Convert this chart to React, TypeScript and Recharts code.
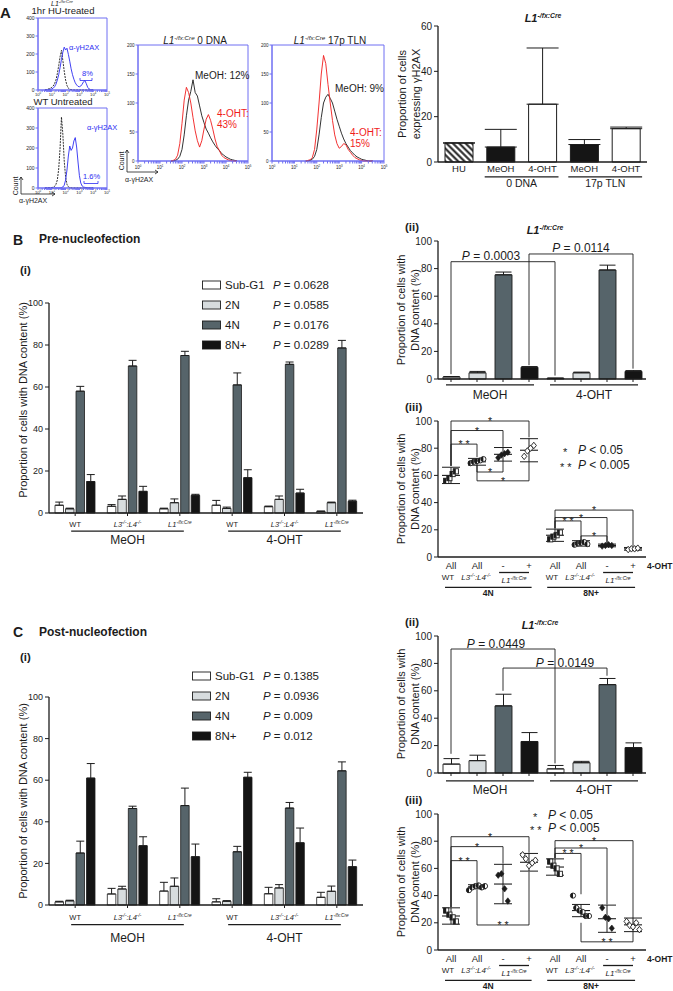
import React from 'react';
import {
  BarChart, Bar, XAxis, YAxis, Cell, ErrorBar, ReferenceLine, Legend,
  LineChart, Line, ScatterChart, Scatter, ReferenceArea,
} from 'recharts';

const FONT = '"Liberation Sans", Arial, Helvetica, sans-serif';
const INK = '#1c1c1c';
const BLUE = '#2c2cf2';
const FRAME = '#6f6ff2';
const RED = '#f01c1c';

// ===== Panel A: flow histograms (x = log10 intensity) =====
const leftBins = [0.5, 0.6, 0.7, 0.8, 0.9, 1.0, 1.1, 1.2, 1.3, 1.4, 1.5, 1.6, 1.7, 1.8, 1.9, 2.0, 2.1, 2.2, 2.3, 2.4, 2.5, 2.6, 2.7, 2.8, 2.9, 3.0, 3.1, 3.2, 3.3, 3.4, 3.5, 3.6, 3.7, 3.8, 3.9, 4.0];
const huIsotype = [0, 2, 4, 7, 10, 15, 22, 35, 55, 90, 135, 185, 220, 165, 105, 55, 25, 10, 4, 2, 1, 0, 0, 0, 0, 0, 0, 0, 0, 0, 0, 0, 0, 0, 0, 0];
const huGamma = [0, 0, 1, 2, 4, 6, 10, 18, 32, 55, 85, 125, 170, 210, 238, 222, 232, 198, 160, 118, 85, 60, 40, 28, 20, 18, 22, 32, 46, 52, 35, 15, 6, 2, 0, 0];
const untIsotype = [0, 0, 0, 1, 1, 2, 4, 8, 18, 40, 95, 200, 355, 270, 135, 55, 18, 6, 2, 1, 0, 0, 0, 0, 0, 0, 0, 0, 0, 0, 0, 0, 0, 0, 0, 0];
const untGamma = [0, 0, 0, 0, 0, 0, 0, 0, 0, 0, 0, 0, 2, 5, 14, 40, 90, 160, 210, 188, 200, 235, 252, 205, 130, 62, 25, 10, 5, 3, 2, 1, 0, 0, 0, 0];
const midBins = [1.5, 1.6, 1.7, 1.8, 1.9, 2.0, 2.1, 2.2, 2.3, 2.4, 2.5, 2.6, 2.7, 2.8, 2.9, 3.0, 3.1, 3.2, 3.3, 3.4, 3.5, 3.6, 3.7, 3.8, 3.9, 4.0, 4.1, 4.2, 4.3, 4.4, 4.5];
const dnaMeOH = [0, 0, 1, 3, 8, 20, 45, 78, 105, 120, 140, 118, 112, 95, 78, 66, 55, 48, 40, 33, 27, 22, 18, 13, 10, 7, 5, 3, 2, 1, 0];
const dna4OHT = [0, 1, 3, 10, 30, 65, 105, 127, 118, 100, 75, 52, 35, 24, 35, 55, 72, 80, 70, 55, 38, 25, 18, 10, 6, 4, 2, 1, 0, 0, 0];
const tlnMeOH = [0, 0, 1, 3, 8, 20, 45, 75, 100, 110, 115, 108, 100, 86, 72, 60, 48, 38, 30, 24, 18, 14, 10, 7, 5, 3, 2, 1, 0, 0, 0];
const tln4OHT = [0, 1, 2, 6, 20, 55, 100, 150, 182, 168, 132, 100, 70, 45, 30, 22, 25, 30, 28, 20, 15, 10, 6, 4, 2, 1, 0, 0, 0, 0, 0];
const decadeTicks = [0, 1, 2, 3, 4, 5];
const minorFactors = [2, 3, 4, 5, 6, 7, 8, 9];
const leftYTicks = [0, 100, 200, 300, 400];
const midYTicks = [0, 50, 100, 150, 200];

// ===== Panel A: bar chart =====
const aKeys = ['HU', 'MeOH_0', 'OHT_0', 'MeOH_17', 'OHT_17'];
const aLabels = ['HU', 'MeOH', '4-OHT', 'MeOH', '4-OHT'];
const aValues = [8.4, 6.6, 25.5, 7.7, 14.7];
const aErrors = [0, 7.8, 24.8, 2.2, 0.7];
const aFills = ['url(#hatch)', '#151515', '#ffffff', '#151515', '#ffffff'];
const aGroups = [{ from: 'MeOH_0', to: 'OHT_0', label: '0 DNA' }, { from: 'MeOH_17', to: 'OHT_17', label: '17p TLN' }];

// ===== Panels B(i) / C(i) =====
const genoKeys = ['WT_M', 'L34_M', 'L1_M', 'WT_O', 'L34_O', 'L1_O'];
const genoKinds = ['WT', 'L34', 'L1', 'WT', 'L34', 'L1'];
const treatGroups = [{ from: 'WT_M', to: 'L1_M', label: 'MeOH' }, { from: 'WT_O', to: 'L1_O', label: '4-OHT' }];
const phaseKeys = ['sub', 'n2', 'n4', 'n8'];
const phaseNames = ['Sub-G1', '2N', '4N', '8N+'];
const phaseColors = ['#ffffff', '#d7dcde', '#56646a', '#141414'];

const preP = ['0.0628', '0.0585', '0.0176', '0.0289'];
const preSubG1 = [3.7, 3.2, 2, 3.7, 3, 0.8];
const preSubG1Err = [1.5, 0.8, 0.3, 2.3, 0.3, 0.1];
const pre2N = [2, 6.5, 4.9, 2.2, 6.5, 4.9];
const pre2NErr = [0.3, 1.6, 1.8, 0.6, 1.6, 0.3];
const pre4N = [58, 70, 75, 61, 70.8, 78.6];
const pre4NErr = [2.3, 2.7, 2, 5.7, 1.1, 3.6];
const pre8N = [15, 10.3, 8.4, 16.8, 9.5, 5.6];
const pre8NErr = [3.3, 2.4, 0.5, 3.8, 1.8, 0.5];

const postP = ['0.1385', '0.0936', '0.009', '0.012'];
const postSubG1 = [1.5, 5.3, 6.7, 1.5, 5.4, 3.7];
const postSubG1Err = [0.3, 2.7, 4.2, 1.5, 3.1, 2.4];
const post2N = [2, 7.7, 9, 1.8, 8.2, 6.6];
const post2NErr = [0.3, 1.3, 4, 0.3, 1.6, 2.5];
const post4N = [25, 46.4, 47.8, 25.6, 46.6, 64.5];
const post4NErr = [5.7, 1.1, 8.4, 2.6, 2.7, 4.3];
const post8N = [61, 28.5, 23.2, 61.4, 29.9, 18.4];
const post8NErr = [7, 4.3, 6.1, 2.4, 7.1, 3.2];

// ===== Panels (ii): L1-/fx:Cre =====
const ltKeys = ['m_s', 'm_2', 'm_4', 'm_8', 'o_s', 'o_2', 'o_4', 'o_8'];
const ltTreat = [{ from: 'm_s', to: 'm_8', label: 'MeOH' }, { from: 'o_s', to: 'o_8', label: '4-OHT' }];
const preL1Values = [1.5, 4.5, 75.5, 8.5, 0.5, 4.5, 79, 5.5];
const preL1Errors = [0.3, 1, 2, 0.5, 0.2, 0.5, 3.5, 0.6];
const postL1Values = [6.5, 9, 49, 23, 3, 7.5, 64.5, 18.5];
const postL1Errors = [4, 4, 8.5, 6.5, 2.5, 1, 4.5, 3.5];
const preL1Brackets = [
  { x1: 'm_s', x2: 'o_s', top: 85, l1: 3.5, l2: 2.5, label: '0.0003' },
  { x1: 'm_8', x2: 'o_8', top: 90.6, l1: 10, l2: 7.5, label: '0.0114' },
];
const postL1Brackets = [
  { x1: 'm_s', x2: 'o_s', top: 90.5, l1: 14, l2: 7, label: '0.0449' },
  { x1: 'm_4', x2: 'o_4', top: 76.6, l1: 60, l2: 71, label: '0.0149' },
];
const preLabelNudge = [-12, 0];
const postLabelNudge = [-7, 10];

// ===== Panels (iii): per-cohort dots =====
const cohortX = [1, 2, 3, 4, 5, 6, 7, 8];
const cohortRow1 = ['All', 'All', '-', '+', 'All', 'All', '-', '+'];
const cohortRow2 = ['WT', 'L34', '', '', 'WT', 'L34', '', ''];
const cohortMarkers = ['square', 'circle', 'diamond', 'openDiamond', 'square', 'circle', 'diamond', 'openDiamond'];
const cohortL1Spans = [[2.85, 4.0], [6.85, 8.0]];
const cohortPloidy = [{ from: 0.77, to: 4.1, label: '4N' }, { from: 4.7, to: 8.08, label: '8N+' }];

const preDots = [
  [56, 58, 61, 63], [69, 70, 70.5, 71, 72], [73, 75, 76, 77], [74, 78, 80, 82],
  [13, 15, 16, 18], [9, 10, 10.5, 11, 9.5], [8, 8.5, 9, 8.5], [5.5, 6, 6, 6.5],
];
const preMeans = [60, 70, 75.5, 78.5, 16, 10, 8.5, 6];
const preSds = [6, 2.5, 5, 8.5, 4.5, 2, 1, 1];
const preDotBrackets = [
  { x1: 1, x2: 4, top: 100, l1: 67, l2: 88, label: '*' },
  { x1: 1, x2: 3, top: 93, l1: 67, l2: 81, label: '*' },
  { x1: 1, x2: 2, top: 83, l1: 67, l2: 73.5, label: '* *' },
  { x1: 2, x2: 3, top: 62.5, l1: 67.5, l2: 70.5, label: '*' },
  { x1: 2, x2: 4, top: 56, l1: 67.5, l2: 70, label: '*' },
  { x1: 5, x2: 8, top: 34.5, l1: 21, l2: 7.5, label: '*' },
  { x1: 5, x2: 7, top: 29, l1: 21, l2: 10, label: '*' },
  { x1: 5, x2: 6, top: 26.5, l1: 21, l2: 12.5, label: '* *' },
  { x1: 6, x2: 7, top: 15.5, l1: 12.5, l2: 10, label: '*' },
];

const postDots = [
  [29, 26, 24, 21], [44, 46, 47, 47.5, 46, 47], [55, 56, 45, 36], [70, 67, 62, 64, 66],
  [65, 62, 60, 56], [40, 31, 29, 28, 25, 25], [31, 24, 23, 16], [21, 18, 17, 20, 15],
];
const postMeans = [25, 46.5, 48.5, 64.5, 61, 29, 23, 18.5];
const postSds = [6, 1.5, 14.5, 6.5, 6, 4.5, 10, 5];
const postDotBrackets = [
  { x1: 1, x2: 4, top: 83.3, l1: 31.5, l2: 71.5, label: '*' },
  { x1: 1, x2: 3, top: 76, l1: 31.5, l2: 63.5, label: '*' },
  { x1: 1, x2: 2, top: 65.7, l1: 31.5, l2: 49, label: '* *' },
  { x1: 2, x2: 4, top: 18.4, l1: 44.5, l2: 57.5, label: '* *' },
  { x1: 5, x2: 8, top: 80.4, l1: 67.5, l2: 23.5, label: '*' },
  { x1: 5, x2: 7, top: 75, l1: 67.5, l2: 33.5, label: '*' },
  { x1: 5, x2: 6, top: 71, l1: 67.5, l2: 41, label: '* *' },
  { x1: 6, x2: 8, top: 6, l1: 20, l2: 13.5, label: '* *' },
];

// ================= helpers =================
const logTicks = decadeTicks.flatMap((d) => (d < 5 ? [d, ...minorFactors.map((m) => d + Math.log10(m))] : [d]));
const histTable = (bins: number[], a: number[], b: number[]) => bins.map((x, i) => ({ x, a: a[i], b: b[i] }));

function genoSpans(kind: string, size: number, italic = true) {
  const s = size * 0.62;
  const up = size * 0.4;
  const fs = italic ? 'italic' : 'normal';
  if (kind === 'WT') return [<tspan key="w">WT</tspan>];
  if (kind === 'L34') {
    return [
      <tspan key="a" fontStyle={fs}>L3</tspan>,
      <tspan key="b" fontStyle={fs} fontSize={s} dy={-up}>-/-</tspan>,
      <tspan key="c" fontStyle={fs} dy={up}>:L4</tspan>,
      <tspan key="d" fontStyle={fs} fontSize={s} dy={-up}>-/-</tspan>,
    ];
  }
  return [
    <tspan key="a" fontStyle={fs}>L1</tspan>,
    <tspan key="b" fontStyle={fs} fontSize={s} dy={-up}>-/fx:Cre</tspan>,
  ];
}

const Txt = (p: any) => (
  <text
    x={p.x}
    y={p.y}
    fontSize={p.size || 11}
    textAnchor={p.anchor || 'start'}
    fontWeight={p.weight || 'normal'}
    fontStyle={p.italic ? 'italic' : 'normal'}
    fill={p.fill || INK}
    fontFamily={FONT}
    transform={p.rotate ? `rotate(-90 ${p.x} ${p.y})` : undefined}
  >
    {p.children}
  </text>
);

function LogTick(p: any) {
  const v = p.payload && p.payload.value;
  if (!Number.isInteger(v)) return <g />;
  return (
    <text x={p.x} y={p.y + p.fs * 0.9} textAnchor="middle" fontSize={p.fs} fill={INK} fontFamily={FONT}>
      10<tspan fontSize={p.fs * 0.65} dy={-p.fs * 0.45}>{v}</tspan>
    </text>
  );
}

function FlowHist(props: any) {
  const { left, top, width, height, mt, yw, mr, xh, data, yMax, yTicks, colA, dashA, colB, yfs, xfs, xts, xtm } = props;
  return (
    <div style={{ position: 'absolute', left, top }}>
      <LineChart width={width} height={height} data={data} margin={{ top: mt, right: mr, bottom: 0, left: 0 }}>
        <XAxis type="number" dataKey="x" domain={[0, 5]} ticks={logTicks} interval={0} height={xh}
          tickSize={xts} tickMargin={xtm} tick={<LogTick fs={xfs} />} stroke={FRAME} />
        <YAxis type="number" domain={[0, yMax]} ticks={yTicks} interval={0} width={yw}
          tickSize={2.5} tickMargin={1} tick={{ fontSize: yfs, fill: INK, fontFamily: FONT }} stroke={FRAME} />
        <ReferenceArea x1={0} x2={5} y1={0} y2={yMax} fill="none" stroke={FRAME} strokeWidth={1} />
        <Line type="linear" dataKey="a" stroke={colA} strokeWidth={0.9} strokeDasharray={dashA} dot={false} isAnimationActive={false} />
        <Line type="linear" dataKey="b" stroke={colB} strokeWidth={0.9} dot={false} isAnimationActive={false} />
      </LineChart>
    </div>
  );
}

const groupShape = (label: any, ext: number, dy: number, size: number, weight = 'normal', italic = false) => (p: any) => {
  const x1 = Math.min(p.x1, p.x2) - ext;
  const x2 = Math.max(p.x1, p.x2) + ext;
  return (
    <g>
      <line x1={x1} x2={x2} y1={p.y1} y2={p.y1} stroke={INK} strokeWidth={1.3} />
      <text x={(x1 + x2) / 2} y={p.y1 + dy} textAnchor="middle" fontSize={size} fontWeight={weight}
        fontStyle={italic ? 'italic' : 'normal'} fill={INK} fontFamily={FONT}>{label}</text>
    </g>
  );
};

function bracketEls(list: any[], prefix: string, mode: string, nudge: number[] = []) {
  return list.flatMap((b, i) => [
    <ReferenceLine key={`${prefix}l${i}`} segment={[{ x: b.x1, y: b.l1 }, { x: b.x1, y: b.top }]} stroke={INK} strokeWidth={0.9} ifOverflow="visible" />,
    <ReferenceLine key={`${prefix}r${i}`} segment={[{ x: b.x2, y: b.l2 }, { x: b.x2, y: b.top }]} stroke={INK} strokeWidth={0.9} ifOverflow="visible" />,
    <ReferenceLine key={`${prefix}h${i}`} segment={[{ x: b.x1, y: b.top }, { x: b.x2, y: b.top }]} stroke={INK} ifOverflow="visible"
      shape={(p: any) => (
        <g>
          <line x1={p.x1} y1={p.y1} x2={p.x2} y2={p.y2} stroke={INK} strokeWidth={0.9} />
          {mode === 'star' ? (
            <text x={(p.x1 + p.x2) / 2} y={p.y1 + 4} textAnchor="middle" fontSize={10.5} fill={INK} fontFamily={FONT}>{b.label}</text>
          ) : (
            <text x={(p.x1 + p.x2) / 2 + (nudge[i] || 0)} y={p.y1 - 1.5} textAnchor="middle" fontSize={12} fill={INK} fontFamily={FONT}>
              <tspan fontStyle="italic">P</tspan>{` = ${b.label}`}
            </text>
          )}
        </g>
      )} />,
  ]);
}

// ================= Panel A bar chart =================
function ATick(p: any) {
  const i = aKeys.indexOf(p.payload.value);
  return (
    <text x={p.x} y={p.y + 9.5} textAnchor="middle" fontSize={9.5} fill={INK} fontFamily={FONT}>{aLabels[i]}</text>
  );
}

function ABars() {
  const table = aKeys.map((k, i) => ({ k, v: aValues[i], e: [0, aErrors[i]] }));
  return (
    <div style={{ position: 'absolute', left: 370, top: 0 }}>
      <BarChart width={303} height={200} data={table} margin={{ top: 26, right: 26, left: 0, bottom: 0 }}>
        <XAxis dataKey="k" height={38} interval={0} tickSize={0} tickMargin={0} tick={<ATick />}
          axisLine={{ stroke: INK, strokeWidth: 1.3 }} tickLine={false} />
        <YAxis domain={[0, 60]} ticks={[0, 20, 40, 60]} interval={0} width={68} tickSize={4} tickMargin={2}
          tick={{ fontSize: 10, fill: INK, fontFamily: FONT }} axisLine={{ stroke: INK, strokeWidth: 1.3 }} tickLine={{ stroke: INK }} />
        <Bar dataKey="v" barSize={28} stroke={INK} strokeWidth={1} isAnimationActive={false}>
          {table.map((d, i) => <Cell key={d.k} fill={aFills[i]} />)}
          <ErrorBar dataKey="e" width={16} stroke={INK} strokeWidth={1} />
        </Bar>
        {aGroups.map((g) => (
          <ReferenceLine key={g.label} segment={[{ x: g.from, y: -6.6 }, { x: g.to, y: -6.6 }]} ifOverflow="visible"
            shape={groupShape(g.label, 16, 10.5, 10.5)} />
        ))}
      </BarChart>
    </div>
  );
}

// ================= B(i) / C(i) =================
function GenoTick(p: any) {
  const i = genoKeys.indexOf(p.payload.value);
  return (
    <text x={p.x} y={p.y + p.dy0} textAnchor="middle" fontSize={7.5} fill={INK} fontFamily={FONT}>
      {genoSpans(genoKinds[i], 7.5)}
    </text>
  );
}

function DNALegend({ pvals }: any) {
  return (
    <svg width={170} height={80} style={{ display: 'block', overflow: 'visible' }}>
      {phaseNames.map((n, i) => (
        <g key={n}>
          <rect x={0.5} y={2 + 20 * i} width={18} height={8} fill={phaseColors[i]} stroke={INK} strokeWidth={0.9} />
          <text x={23} y={10 + 20 * i} fontSize={11.5} fill={INK} fontFamily={FONT}>{n}</text>
          <text x={71} y={10 + 20 * i} fontSize={11.5} fill={INK} fontFamily={FONT}>
            <tspan fontStyle="italic">P</tspan>{` = ${pvals[i]}`}
          </text>
        </g>
      ))}
    </svg>
  );
}

function DNAChart(props: any) {
  const { top, height, mt, values, errors, pvals, legendLeft, legendTop, groupY, groupDy, tickDy } = props;
  const table = genoKeys.map((k, i) => {
    const row: any = { k };
    phaseKeys.forEach((p, j) => {
      row[p] = values[j][i];
      row[p + 'e'] = [0, errors[j][i]];
    });
    return row;
  });
  return (
    <div style={{ position: 'absolute', left: 0, top }}>
      <BarChart width={370} height={height} data={table} margin={{ top: mt, right: 7, left: 0, bottom: 0 }} barGap={2}>
        <XAxis dataKey="k" height={40} interval={0} tickSize={3} tickMargin={2} tick={<GenoTick dy0={tickDy} />}
          axisLine={{ stroke: INK, strokeWidth: 1.3 }} tickLine={{ stroke: INK }} />
        <YAxis domain={[0, 100]} ticks={[0, 20, 40, 60, 80, 100]} interval={0} width={49} tickSize={4} tickMargin={2}
          tick={{ fontSize: 9, fill: INK, fontFamily: FONT }} axisLine={{ stroke: INK, strokeWidth: 1.3 }} tickLine={{ stroke: INK }} />
        {phaseKeys.map((p, j) => (
          <Bar key={p} dataKey={p} barSize={8.5} fill={phaseColors[j]} stroke={INK} strokeWidth={0.8} isAnimationActive={false}>
            <ErrorBar dataKey={p + 'e'} width={4} stroke={INK} strokeWidth={1} />
          </Bar>
        ))}
        {treatGroups.map((g) => (
          <ReferenceLine key={g.label} segment={[{ x: g.from, y: groupY }, { x: g.to, y: groupY }]} ifOverflow="visible"
            shape={groupShape(g.label, 4, groupDy, 12)} />
        ))}
        <Legend layout="vertical" align="center" verticalAlign="middle"
          wrapperStyle={{ position: 'absolute', left: legendLeft, top: legendTop, width: 170, height: 80 }}
          content={<DNALegend pvals={pvals} />} />
      </BarChart>
    </div>
  );
}

// ================= (ii) =================
function L1Bars(props: any) {
  const { top, height, values, errors, brackets, nudge, groupY, groupDy } = props;
  const table = ltKeys.map((k, i) => ({ k, v: values[i], e: [0, errors[i]] }));
  return (
    <div style={{ position: 'absolute', left: 370, top }}>
      <BarChart width={303} height={height} data={table} margin={{ top: 26, right: 27, left: 0, bottom: 0 }}>
        <XAxis dataKey="k" height={30} interval={0} tickSize={3} tickFormatter={() => ''}
          axisLine={{ stroke: INK, strokeWidth: 1.3 }} tickLine={{ stroke: INK }} />
        <YAxis domain={[0, 100]} ticks={[0, 20, 40, 60, 80, 100]} interval={0} width={68} tickSize={4} tickMargin={2}
          tick={{ fontSize: 10, fill: INK, fontFamily: FONT }} axisLine={{ stroke: INK, strokeWidth: 1.3 }} tickLine={{ stroke: INK }} />
        <Bar dataKey="v" barSize={17} stroke={INK} strokeWidth={0.9} isAnimationActive={false}>
          {table.map((d, i) => <Cell key={d.k} fill={phaseColors[i % 4]} />)}
          <ErrorBar dataKey="e" width={8} stroke={INK} strokeWidth={1} />
        </Bar>
        {bracketEls(brackets, 'b', 'p', nudge)}
        {ltTreat.map((g) => (
          <ReferenceLine key={g.label} segment={[{ x: g.from, y: groupY }, { x: g.to, y: groupY }]} ifOverflow="visible"
            shape={groupShape(g.label, 5, groupDy, 12)} />
        ))}
      </BarChart>
    </div>
  );
}

// ================= (iii) =================
function CohortTick(p: any) {
  const i = p.payload.value - 1;
  const kind = cohortRow2[i];
  const shift = kind === 'WT' ? -3 : kind === 'L34' ? -1 : 0;
  return (
    <g>
      <text x={p.x} y={p.y + 12} textAnchor="middle" fontSize={9.5} fill={INK} fontFamily={FONT}>{cohortRow1[i]}</text>
      {kind ? (
        <text x={p.x + shift} y={p.y + 23} textAnchor="middle" fontSize={8} fill={INK} fontFamily={FONT}>{genoSpans(kind, 8)}</text>
      ) : null}
      {i === 7 ? (
        <text x={p.x + 14} y={p.y + 12} fontSize={8.5} fontWeight="bold" fill={INK} fontFamily={FONT}>4-OHT</text>
      ) : null}
    </g>
  );
}

function DotShape(p: any) {
  const d = p.payload || {};
  const cx = p.cx + (d.j - (d.n - 1) / 2) * 3.2;
  const cy = p.cy;
  const s = 2.6;
  if (d.m === 'square') {
    return (
      <g>
        <rect x={cx - s} y={cy - s} width={2 * s} height={2 * s} fill="#fff" stroke={INK} strokeWidth={0.9} />
        <rect x={cx - s} y={cy - s} width={s} height={2 * s} fill={INK} />
      </g>
    );
  }
  if (d.m === 'circle') {
    return (
      <g>
        <circle cx={cx} cy={cy} r={s} fill="#fff" stroke={INK} strokeWidth={0.9} />
        <path d={`M${cx} ${cy - s} A${s} ${s} 0 0 0 ${cx} ${cy + s} Z`} fill={INK} />
      </g>
    );
  }
  const dpath = `M${cx} ${cy - s * 1.25} L${cx + s} ${cy} L${cx} ${cy + s * 1.25} L${cx - s} ${cy} Z`;
  if (d.m === 'diamond') return <path d={dpath} fill={INK} stroke={INK} strokeWidth={0.6} />;
  return <path d={dpath} fill="#fff" stroke={INK} strokeWidth={0.9} />;
}

const MeanShape = (p: any) => (
  <line x1={p.cx - 9} x2={p.cx + 9} y1={p.cy} y2={p.cy} stroke={INK} strokeWidth={1.1} />
);

function DotChart(props: any) {
  const { top, height, mt, xh, dots, means, sds, brackets } = props;
  const dotData = dots.flatMap((vals: number[], g: number) =>
    vals.map((v, j) => ({ x: cohortX[g], y: v, j, n: vals.length, m: cohortMarkers[g] })));
  const meanData = means.map((v: number, g: number) => ({ x: cohortX[g], y: v, sd: sds[g] }));
  return (
    <div style={{ position: 'absolute', left: 370, top }}>
      <ScatterChart width={303} height={height} margin={{ top: mt, right: 27, left: 0, bottom: 0 }}>
        <XAxis type="number" dataKey="x" domain={[0.5, 8.5]} ticks={cohortX} interval={0} height={xh}
          tickSize={0} tickMargin={0} tick={<CohortTick />} axisLine={{ stroke: INK, strokeWidth: 1.3 }} tickLine={false} />
        <YAxis type="number" dataKey="y" domain={[0, 100]} ticks={[0, 20, 40, 60, 80, 100]} interval={0} width={68}
          tickSize={4} tickMargin={2} tick={{ fontSize: 10, fill: INK, fontFamily: FONT }}
          axisLine={{ stroke: INK, strokeWidth: 1.3 }} tickLine={{ stroke: INK }} />
        {bracketEls(brackets, 'd', 'star')}
        <Scatter data={meanData} shape={MeanShape} isAnimationActive={false}>
          <ErrorBar dataKey="sd" direction="y" width={9} stroke={INK} strokeWidth={1} />
        </Scatter>
        <Scatter data={dotData} shape={DotShape} isAnimationActive={false} />
        {cohortL1Spans.map((s, i) => (
          <ReferenceLine key={`l1${i}`} segment={[{ x: s[0], y: -11.4 }, { x: s[1], y: -11.4 }]} ifOverflow="visible"
            shape={groupShape(genoSpans('L1', 8), 0, 10.5, 8, 'normal')} />
        ))}
        {cohortPloidy.map((g) => (
          <ReferenceLine key={g.label} segment={[{ x: g.from, y: -22.3 }, { x: g.to, y: -22.3 }]} ifOverflow="visible"
            shape={groupShape(g.label, 0, 8.5, 8.5, 'bold')} />
        ))}
      </ScatterChart>
    </div>
  );
}

// ================= overlay text =================
function Arrow({ x, y, up, right }: any) {
  return (
    <g stroke={INK} strokeWidth={0.8} fill="none">
      <path d={`M${x} ${y} V${y - up}`} />
      <path d={`M${x - 2} ${y - up + 3} L${x} ${y - up} L${x + 2} ${y - up + 3}`} />
      <path d={`M${x} ${y} H${x + right}`} />
      <path d={`M${x + right - 3} ${y - 2} L${x + right} ${y} L${x + right - 3} ${y + 2}`} />
    </g>
  );
}

function YTitle({ x, y, lines, size = 11 }: any) {
  return (
    <g>
      {lines.map((l: string, i: number) => (
        <Txt key={l} x={x + i * 14} y={y} size={size} anchor="middle" rotate>{l}</Txt>
      ))}
    </g>
  );
}

function Overlay() {
  return (
    <svg width={673} height={991} style={{ position: 'absolute', left: 0, top: 0, pointerEvents: 'none' }}>
      {/* Panel A */}
      <Txt x={0} y={18} size={15} weight="bold">A</Txt>
      <text x={62} y={6} fontSize={7} textAnchor="middle" fill={INK} fontFamily={FONT}>{genoSpans('L1', 7)}</text>
      <Txt x={63} y={14.3} size={9.5} anchor="middle">1hr HU-treated</Txt>
      <Txt x={69} y={50} size={7.5} fill={BLUE}>α-γH2AX</Txt>
      <Txt x={82} y={76} size={7.5} fill={BLUE}>8%</Txt>
      <path d="M80 78 V80.5 H92 V78" stroke={BLUE} strokeWidth={0.8} fill="none" />
      <Txt x={63} y={104.5} size={9.5} anchor="middle">WT Untreated</Txt>
      <Txt x={87} y={130} size={7.5} fill={BLUE}>α-γH2AX</Txt>
      <Txt x={83} y={179} size={7.5} fill={BLUE}>1.6%</Txt>
      <path d="M84 181 V183.5 H98 V181" stroke={BLUE} strokeWidth={0.8} fill="none" />
      <Arrow x={21} y={194} up={17} right={34} />
      <Txt x={18} y={186} size={7} anchor="middle" rotate>Count</Txt>
      <Txt x={19} y={203} size={7}>α-γH2AX</Txt>

      <text x={195} y={43.5} fontSize={10} textAnchor="middle" fill={INK} fontFamily={FONT}>
        {genoSpans('L1', 10)}<tspan dy={4}> 0 DNA</tspan>
      </text>
      <text x={330} y={43.5} fontSize={10} textAnchor="middle" fill={INK} fontFamily={FONT}>
        {genoSpans('L1', 10)}<tspan dy={4}> 17p TLN</tspan>
      </text>
      <Txt x={195} y={78.5} size={10}>MeOH: 12%</Txt>
      <Txt x={217} y={116.5} size={10} fill={RED}>4-OHT:</Txt>
      <Txt x={217} y={128} size={10} fill={RED}>43%</Txt>
      <Txt x={335} y={91.5} size={10}>MeOH: 9%</Txt>
      <Txt x={350} y={135.5} size={10} fill={RED}>4-OHT:</Txt>
      <Txt x={350} y={147} size={10} fill={RED}>15%</Txt>
      <Arrow x={127} y={172} up={22} right={31} />
      <Txt x={124} y={161} size={7} anchor="middle" rotate>Count</Txt>
      <Txt x={125} y={182} size={7}>α-γH2AX</Txt>

      <text x={543} y={22} fontSize={11} fontWeight="bold" textAnchor="middle" fill={INK} fontFamily={FONT}>{genoSpans('L1', 11)}</text>
      <YTitle x={406} y={94} lines={['Proportion of cells', 'expressing γH2AX']} />

      {/* Panel B */}
      <Txt x={13} y={245} size={14} weight="bold">B</Txt>
      <Txt x={39} y={243} size={12} weight="bold">Pre-nucleofection</Txt>
      <Txt x={20} y={274} size={11.5} weight="bold">(i)</Txt>
      <Txt x={27} y={400} size={11} anchor="middle" rotate>Proportion of cells with DNA content (%)</Txt>
      <Txt x={405} y={231} size={11.5} weight="bold">(ii)</Txt>
      <text x={545} y={234} fontSize={11} fontWeight="bold" textAnchor="middle" fill={INK} fontFamily={FONT}>{genoSpans('L1', 11)}</text>
      <YTitle x={405} y={310} lines={['Proportion of cells with', 'DNA content (%)']} />
      <Txt x={405} y={411} size={11.5} weight="bold">(iii)</Txt>
      <YTitle x={405} y={489} lines={['Proportion of cells with', 'DNA content (%)']} />
      <Txt x={563} y={456} size={11}>*</Txt>
      <text x={578} y={454} fontSize={12} fill={INK} fontFamily={FONT}><tspan fontStyle="italic">P</tspan> &lt; 0.05</text>
      <Txt x={560} y={471} size={11}>* *</Txt>
      <text x={578} y={469} fontSize={12} fill={INK} fontFamily={FONT}><tspan fontStyle="italic">P</tspan> &lt; 0.005</text>

      {/* Panel C */}
      <Txt x={13} y={637} size={14} weight="bold">C</Txt>
      <Txt x={39} y={636} size={12} weight="bold">Post-nucleofection</Txt>
      <Txt x={20} y={661} size={11.5} weight="bold">(i)</Txt>
      <Txt x={27} y={801} size={11} anchor="middle" rotate>Proportion of cells with DNA content (%)</Txt>
      <Txt x={405} y={626} size={11.5} weight="bold">(ii)</Txt>
      <text x={540} y={629} fontSize={11} fontWeight="bold" textAnchor="middle" fill={INK} fontFamily={FONT}>{genoSpans('L1', 11)}</text>
      <YTitle x={405} y={704} lines={['Proportion of cells with', 'DNA content (%)']} />
      <Txt x={405} y={804} size={11.5} weight="bold">(iii)</Txt>
      <YTitle x={405} y={882} lines={['Proportion of cells with', 'DNA content (%)']} />
      <Txt x={533} y={821} size={11}>*</Txt>
      <text x={548} y={819} fontSize={12} fill={INK} fontFamily={FONT}><tspan fontStyle="italic">P</tspan> &lt; 0.05</text>
      <Txt x={530} y={834} size={11}>* *</Txt>
      <text x={548} y={832} fontSize={12} fill={INK} fontFamily={FONT}><tspan fontStyle="italic">P</tspan> &lt; 0.005</text>
    </svg>
  );
}

export default function App() {
  return (
    <div style={{ position: 'absolute', left: 0, top: 0, width: 673, height: 991, background: '#fff', fontFamily: FONT, overflow: 'hidden' }}>
      <svg width={0} height={0} style={{ position: 'absolute' }}>
        <defs>
          <pattern id="hatch" patternUnits="userSpaceOnUse" width={4.5} height={4.5} patternTransform="rotate(-45)">
            <rect width={4.5} height={4.5} fill="#fff" />
            <line x1={2.25} y1={0} x2={2.25} y2={4.5} stroke={INK} strokeWidth={2} />
          </pattern>
        </defs>
      </svg>

      <FlowHist left={0} top={0} width={120} height={100} mt={18} yw={38} mr={13} xh={10}
        data={histTable(leftBins, huIsotype, huGamma)} yMax={400} yTicks={leftYTicks}
        colA={INK} dashA="2 1" colB={BLUE} yfs={5} xfs={4.2} xts={2} xtm={0} />
      <FlowHist left={0} top={90} width={120} height={108} mt={18} yw={38} mr={13} xh={10}
        data={histTable(leftBins, untIsotype, untGamma)} yMax={400} yTicks={leftYTicks}
        colA={INK} dashA="2 1" colB={BLUE} yfs={5} xfs={4.2} xts={2} xtm={0} />
      <FlowHist left={120} top={30} width={135} height={145} mt={15} yw={18} mr={7} xh={14}
        data={histTable(midBins, dnaMeOH, dna4OHT)} yMax={200} yTicks={midYTicks}
        colA={INK} colB={RED} yfs={4.5} xfs={4.5} xts={2.5} xtm={1} />
      <FlowHist left={255} top={30} width={135} height={145} mt={15} yw={17} mr={6} xh={14}
        data={histTable(midBins, tlnMeOH, tln4OHT)} yMax={200} yTicks={midYTicks}
        colA={INK} colB={RED} yfs={4.5} xfs={4.5} xts={2.5} xtm={1} />

      <ABars />

      <DNAChart top={277} height={276} mt={26}
        values={[preSubG1, pre2N, pre4N, pre8N]} errors={[preSubG1Err, pre2NErr, pre4NErr, pre8NErr]}
        pvals={preP} legendLeft={202} legendTop={2} groupY={-8.6} groupDy={13} tickDy={8.5} />
      <L1Bars top={215} height={194} values={preL1Values} errors={preL1Errors} brackets={preL1Brackets}
        nudge={preLabelNudge} groupY={-4.3} groupDy={14} />
      <DotChart top={400} height={202} mt={21} xh={45} dots={preDots} means={preMeans} sds={preSds} brackets={preDotBrackets} />

      <DNAChart top={670} height={275} mt={27}
        values={[postSubG1, post2N, post4N, post8N]} errors={[postSubG1Err, post2NErr, post4NErr, post8NErr]}
        pvals={postP} legendLeft={192} legendTop={0} groupY={-9.4} groupDy={17} tickDy={9.5} />
      <L1Bars top={610} height={193} values={postL1Values} errors={postL1Errors} brackets={postL1Brackets}
        nudge={postLabelNudge} groupY={-5.8} groupDy={13} />
      <DotChart top={790} height={201} mt={24} xh={41} dots={postDots} means={postMeans} sds={postSds} brackets={postDotBrackets} />

      <Overlay />
    </div>
  );
}
